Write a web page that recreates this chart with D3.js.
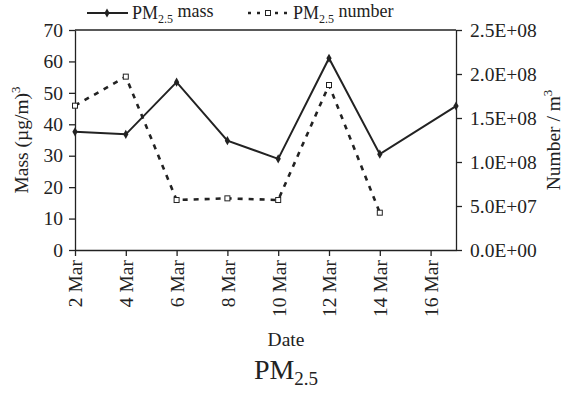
<!DOCTYPE html>
<html><head><meta charset="utf-8">
<script src="https://cdn.jsdelivr.net/npm/d3@7"></script>
<style>
body{margin:0;background:#fff;}
svg text{font-family:"Liberation Serif","Times New Roman",serif;fill:#222;}
</style></head>
<body><svg id="c" width="576" height="393"></svg>
<script>
const massDays = [2, 4, 6, 8, 10, 12, 14, 17];
const massValues = [37.6, 36.8, 53.4, 34.8, 29.0, 61.0, 30.5, 45.8];
const numberDays = [2, 4, 6, 8, 10, 12, 14];
const numberValues = [1.64e8, 1.97e8, 5.68e7, 5.87e7, 5.68e7, 1.875e8, 4.24e7];
const xTickDays = [2, 4, 6, 8, 10, 12, 14, 16];
const xTickLabels = ["2 Mar", "4 Mar", "6 Mar", "8 Mar", "10 Mar", "12 Mar", "14 Mar", "16 Mar"];
const leftTicks = [0, 10, 20, 30, 40, 50, 60, 70];
const rightTicks = [0, 5e7, 1e8, 1.5e8, 2e8, 2.5e8];
const rightTickLabels = ["0.0E+00", "5.0E+07", "1.0E+08", "1.5E+08", "2.0E+08", "2.5E+08"];

const svg = d3.select("#c");
const L = 75, R = 456, T = 30, B = 250;
const x = d3.scaleLinear().domain([2, 17]).range([L, R]);
const yL = d3.scaleLinear().domain([0, 70]).range([B, T]);
const yR = d3.scaleLinear().domain([0, 2.5e8]).range([B, T]);
const ink = "#222";
const fs = "19.5px";
const lfs = "18px";

svg.append("line").attr("x1", L).attr("x2", R).attr("y1", T).attr("y2", T)
  .attr("stroke", ink).attr("stroke-width", 1.3);

const axL = svg.append("g").attr("transform", `translate(${L},0)`)
  .call(d3.axisLeft(yL).tickValues(leftTicks).tickSize(6).tickPadding(6).tickSizeOuter(0));
const axR = svg.append("g").attr("transform", `translate(${R},0)`)
  .call(d3.axisRight(yR).tickValues(rightTicks).tickSize(6).tickPadding(8).tickSizeOuter(0)
    .tickFormat((d, i) => rightTickLabels[i]));
const axB = svg.append("g").attr("transform", `translate(0,${B})`)
  .call(d3.axisBottom(x).tickValues(xTickDays).tickSize(6).tickSizeOuter(0)
    .tickFormat((d, i) => xTickLabels[i]));
axB.selectAll("text").attr("transform", "rotate(-90)").attr("text-anchor", "end")
  .attr("x", -10).attr("y", 0).attr("dy", "0.35em");
[axL, axR, axB].forEach(a => {
  a.selectAll("path,line").attr("stroke", ink).attr("stroke-width", 1.3);
  a.selectAll("text").style("font-size", fs).attr("fill", ink)
    .style("font-family", '"Liberation Serif",serif');
});

const massData = massDays.map((d, i) => [d, massValues[i]]);
const numData = numberDays.map((d, i) => [d, numberValues[i]]);
svg.append("path").datum(massData)
  .attr("d", d3.line().x(d => x(d[0])).y(d => yL(d[1])))
  .attr("fill", "none").attr("stroke", ink).attr("stroke-width", 2);
svg.append("path").datum(numData)
  .attr("d", d3.line().x(d => x(d[0])).y(d => yR(d[1])))
  .attr("fill", "none").attr("stroke", ink).attr("stroke-width", 2.6)
  .attr("stroke-dasharray", "5,6");
const diamond = d3.symbol().type(d3.symbolDiamond).size(24);
svg.selectAll(".mm").data(massData).enter().append("path")
  .attr("d", diamond).attr("transform", d => `translate(${x(d[0])},${yL(d[1])})`)
  .attr("fill", ink);
svg.selectAll(".nm").data(numData).enter().append("rect")
  .attr("x", d => x(d[0]) - 2.5).attr("y", d => yR(d[1]) - 2.5)
  .attr("width", 5).attr("height", 5).attr("fill", "#fff")
  .attr("stroke", ink).attr("stroke-width", 1);

const lt = svg.append("text").attr("transform", "translate(28,140) rotate(-90)")
  .attr("text-anchor", "middle").style("font-size", fs);
lt.append("tspan").text("Mass (µg/m)");
lt.append("tspan").text("3").style("font-size", "13px").attr("dy", "-0.6em");
const rt = svg.append("text").attr("transform", "translate(560,140) rotate(-90)")
  .attr("text-anchor", "middle").style("font-size", fs);
rt.append("tspan").text("Number / m");
rt.append("tspan").text("3").style("font-size", "13px").attr("dy", "-0.6em");

svg.append("text").attr("x", 286).attr("y", 346).attr("text-anchor", "middle")
  .style("font-size", fs).text("Date");
const tt = svg.append("text").attr("x", 286).attr("y", 379).attr("text-anchor", "middle")
  .style("font-size", "28px");
tt.append("tspan").text("PM");
tt.append("tspan").text("2.5").style("font-size", "19px").attr("dy", "0.3em");

const ly = 13;
svg.append("line").attr("x1", 87).attr("x2", 128).attr("y1", ly).attr("y2", ly)
  .attr("stroke", ink).attr("stroke-width", 2);
svg.append("path").attr("d", diamond).attr("transform", `translate(107,${ly})`).attr("fill", ink);
const l1 = svg.append("text").attr("x", 132).attr("y", 19).style("font-size", lfs);
l1.append("tspan").text("PM");
l1.append("tspan").text("2.5").style("font-size", "12px").attr("dy", "0.3em");
l1.append("tspan").text(" mass").attr("dy", "-0.3em");
svg.append("line").attr("x1", 248).attr("x2", 290).attr("y1", ly).attr("y2", ly)
  .attr("stroke", ink).attr("stroke-width", 2.6).attr("stroke-dasharray", "3,6");
svg.append("rect").attr("x", 265.5).attr("y", ly - 2.5).attr("width", 5).attr("height", 5)
  .attr("fill", "#fff").attr("stroke", ink).attr("stroke-width", 1);
const l2 = svg.append("text").attr("x", 293).attr("y", 19).style("font-size", lfs);
l2.append("tspan").text("PM");
l2.append("tspan").text("2.5").style("font-size", "12px").attr("dy", "0.3em");
l2.append("tspan").text(" number").attr("dy", "-0.3em");
</script></body></html>
